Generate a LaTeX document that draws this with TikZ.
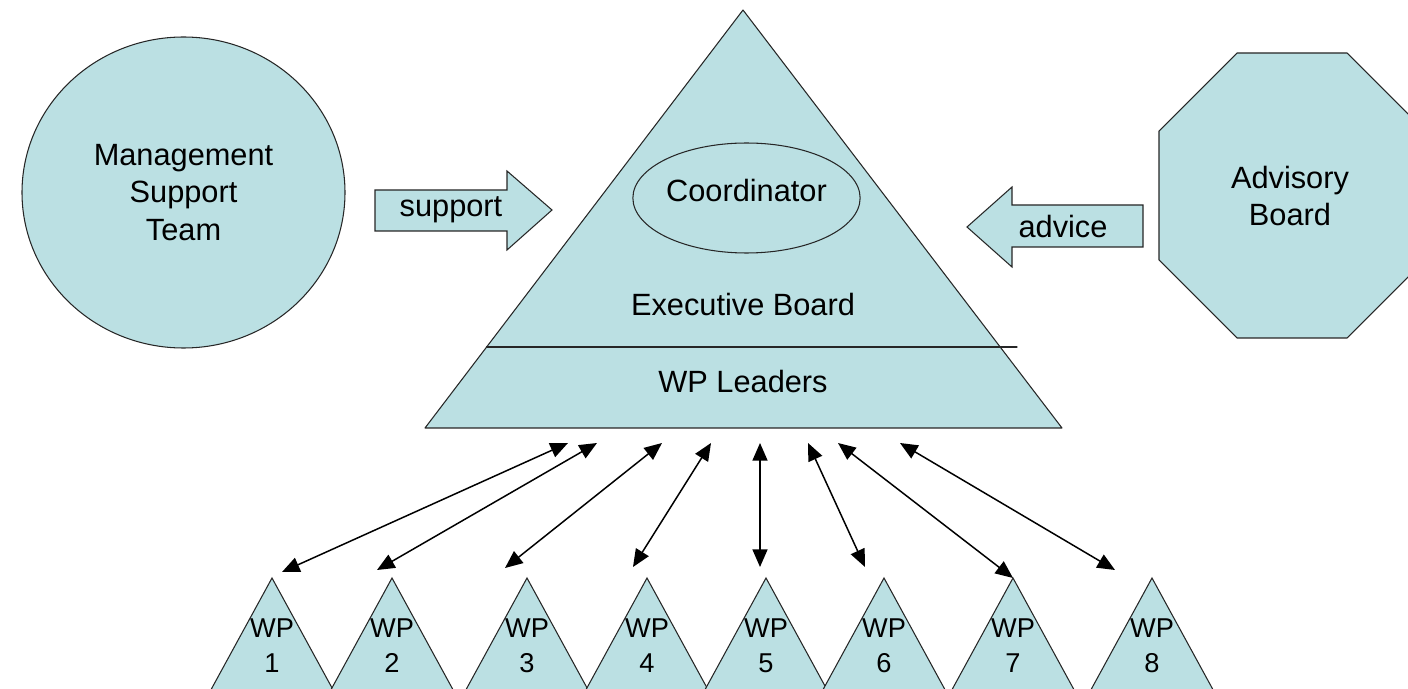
\documentclass[tikz,border=0pt]{standalone}
\usepackage{fontspec}
\setmainfont{Liberation Sans}
\usepackage{xcolor}
\usepackage{tikz}
\usepackage{tkz-euclide}
\usetikzlibrary{calc,arrows.meta,shapes.geometric}
\definecolor{paleteal}{HTML}{BBE0E3}
\tikzset{
	filled/.style={draw=black!85,line width=0.6pt,fill=paleteal},
	lbl/.style={font=\fontsize{17.5}{21.3}\selectfont,align=center,inner sep=0pt},
	wplbl/.style={font=\fontsize{15.5}{19.8}\selectfont,align=center,inner sep=0pt},
	link/.style={line width=0.85pt,{Triangle[length=10pt,width=8.5pt]}-{Triangle[length=10pt,width=8.5pt]}}
}

\begin{document}
\begin{tikzpicture}
		\useasboundingbox (0,0) rectangle (28.16,13.76);
		\clip (0,0) rectangle (28.16,13.76);
		\node[filled,ellipse,minimum width=6.46cm,minimum height=6.22cm,lbl] (mst) at (3.67,9.91) {Management\\Support\\Team};
		\draw[filled] (7.50,9.96) -- (10.14,9.96) -- (10.14,10.34) -- (11.04,9.56) -- (10.14,8.76) -- (10.14,9.14) -- (7.50,9.14) -- cycle;
		\node[lbl] (sup) at (9.02,9.56) {support};
		\tkzDefPoint(8.50,5.20){A}
		\tkzDefPoint(21.24,5.20){B}
		\tkzDefPoint(14.86,13.56){C}
		\tkzDrawPolygon[filled](A,B,C)
		\tkzDefPoint(9.73,6.82){E}
		\tkzDefPoint(20.34,6.82){F}
		\tkzDrawSegment[draw=black!85,line width=0.6pt](E,F)
		\node[filled,ellipse,minimum width=4.18cm,minimum height=2.2cm,lbl,text depth=0.32cm] (coord) at (14.93,9.80) {Coordinator};
		\node[lbl] (exec) at (14.86,7.66) {Executive Board};
		\node[lbl] (wpl) at (14.86,6.12) {WP Leaders};
		\draw[filled] (22.86,9.66) -- (20.24,9.66) -- (20.24,10.02) -- (19.34,9.22) -- (20.24,8.42) -- (20.24,8.82) -- (22.86,8.82) -- cycle;
		\node[lbl] (adv) at (21.26,9.22) {advice};
		\tkzDefPoint(24.74,12.70){O1}
		\tkzDefPoint(26.94,12.70){O2}
		\tkzDefPoint(28.50,11.14){O3}
		\tkzDefPoint(28.50,8.56){O4}
		\tkzDefPoint(26.94,7.00){O5}
		\tkzDefPoint(24.74,7.00){O6}
		\tkzDefPoint(23.18,8.56){O7}
		\tkzDefPoint(23.18,11.14){O8}
		\tkzDrawPolygon[filled](O1,O2,O3,O4,O5,O6,O7,O8)
		\node[lbl] (advb) at (25.80,9.84) {Advisory\\Board};
		\foreach \x [count=\i] in {5.44,7.84,10.54,12.94,15.32,17.68,20.26,23.04}{
			\draw[filled] (\x,2.20) coordinate (w\i) -- ++(-1.42,-2.6) -- ++(2.84,0) -- cycle;
			\node[wplbl] (wp\i) at (\x,0.85) {WP\\\i};
		}
		\tkzDefPoint(11.36,4.90){t1}
		\tkzDefPoint(11.94,4.90){t2}
		\tkzDefPoint(13.24,4.90){t3}
		\tkzDefPoint(14.22,4.90){t4}
		\tkzDefPoint(15.20,4.90){t5}
		\tkzDefPoint(16.16,4.90){t6}
		\tkzDefPoint(16.76,4.90){t7}
		\tkzDefPoint(18.00,4.90){t8}
		\tkzDefPoint(5.64,2.32){b1}
		\tkzDefPoint(7.54,2.36){b2}
		\tkzDefPoint(10.10,2.40){b3}
		\tkzDefPoint(12.66,2.42){b4}
		\tkzDefPoint(15.20,2.42){b5}
		\tkzDefPoint(17.30,2.42){b6}
		\tkzDefPoint(22.30,2.36){b8}
		\tkzDrawSegments[link](t1,b1 t2,b2 t3,b3 t4,b4 t5,b5 t6,b6 t7,w7 t8,b8)
	\end{tikzpicture}
\end{document}
